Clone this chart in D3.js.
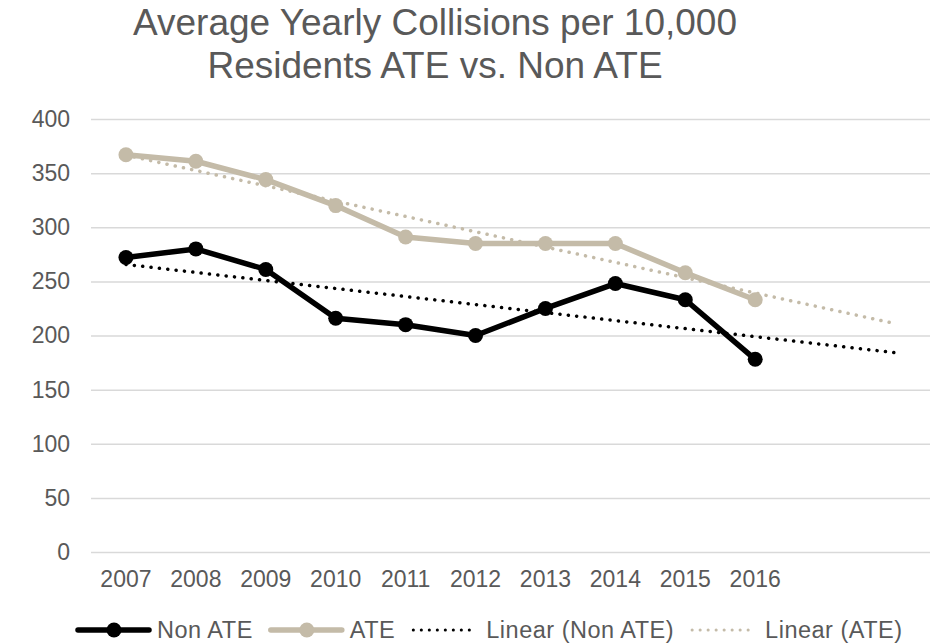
<!DOCTYPE html>
<html>
<head>
<meta charset="utf-8">
<script src="https://cdn.jsdelivr.net/npm/d3@7"></script>
<style>
  body { margin: 0; background: #fff; }
  svg { font-family: "Liberation Sans", Arial, sans-serif; }
</style>
</head>
<body>
<div id="chart"></div>
<script>
// Chart data
const years = ['2007', '2008', '2009', '2010', '2011', '2012', '2013', '2014', '2015', '2016'];
const nonAte = [272, 280, 261, 216, 210, 200, 225, 248, 233, 178];
const ate = [367, 361, 344, 320, 291, 285, 285, 285, 258, 233];
const yTicks = [0, 50, 100, 150, 200, 250, 300, 350, 400];
const titleLines = ['Average Yearly Collisions per 10,000', 'Residents ATE vs. Non ATE'];
const forecastPeriods = 2; // trendline forward forecast

const W = 935, H = 644;
const plot = { left: 91, right: 930, top: 119, bottom: 552 };
const textColor = '#595959';
const ateColor = '#c4bba8';
const fontFamily = '"Liberation Sans", Arial, sans-serif';

const svg = d3.select('#chart').append('svg')
    .attr('width', W)
    .attr('height', H);

const xScale = d3.scaleLinear()
    .domain([-0.5, years.length + forecastPeriods - 0.5])
    .range([plot.left, plot.right]);
const yScale = d3.scaleLinear()
    .domain([0, 400])
    .range([plot.bottom, plot.top]);

// Title
svg.append('g').selectAll('text')
    .data(titleLines)
    .enter().append('text')
    .attr('x', 435)
    .attr('y', (d, i) => 35 + i * 43)
    .attr('text-anchor', 'middle')
    .attr('font-size', '37px')
    .attr('fill', textColor)
    .text(d => d);

// Gridlines + y labels
const yAxis = d3.axisLeft(yScale)
    .tickValues(yTicks)
    .tickSize(-(plot.right - plot.left))
    .tickPadding(21);
svg.append('g')
    .attr('class', 'y-axis')
    .attr('transform', `translate(${plot.left},0)`)
    .call(yAxis)
    .call(g => g.select('.domain').remove())
    .call(g => g.selectAll('.tick line').attr('stroke', '#d9d9d9').attr('stroke-width', 1.5))
    .call(g => g.selectAll('.tick text')
        .attr('fill', textColor)
        .attr('font-size', '23px')
        .attr('font-family', fontFamily));

// X labels (only for real categories)
svg.append('g').selectAll('text')
    .data(years)
    .enter().append('text')
    .attr('x', (d, i) => xScale(i))
    .attr('y', 587)
    .attr('text-anchor', 'middle')
    .attr('font-size', '23px')
    .attr('fill', textColor)
    .text(d => d);

// Linear trendline (least squares, like Excel)
function trend(values) {
    const n = values.length;
    const xs = values.map((v, i) => i);
    const mx = d3.mean(xs), my = d3.mean(values);
    const sxy = d3.sum(xs, (x, i) => (x - mx) * (values[i] - my));
    const sxx = d3.sum(xs, x => (x - mx) * (x - mx));
    const slope = sxy / sxx;
    const b = my - slope * mx;
    const last = n - 1 + forecastPeriods;
    return [[0, b], [last, b + slope * last]];
}

const line = d3.line()
    .x(d => xScale(d[0]))
    .y(d => yScale(d[1]));

const dotDash = '0.1 8.3';

// Trendlines
svg.append('path')
    .attr('d', line(trend(ate)))
    .attr('fill', 'none')
    .attr('stroke', ateColor)
    .attr('stroke-width', 3.5)
    .attr('stroke-linecap', 'round')
    .attr('stroke-dasharray', dotDash);
svg.append('path')
    .attr('d', line(trend(nonAte)))
    .attr('fill', 'none')
    .attr('stroke', '#000')
    .attr('stroke-width', 3.5)
    .attr('stroke-linecap', 'round')
    .attr('stroke-dasharray', dotDash);

// Series
const series = [
    { name: 'Non ATE', values: nonAte, color: '#000' },
    { name: 'ATE', values: ate, color: ateColor }
];

series.forEach(s => {
    const pts = s.values.map((v, i) => [i, v]);
    svg.append('path')
        .attr('d', line(pts))
        .attr('fill', 'none')
        .attr('stroke', s.color)
        .attr('stroke-width', 5.5)
        .attr('stroke-linejoin', 'round');
    svg.append('g').selectAll('circle')
        .data(pts)
        .enter().append('circle')
        .attr('cx', d => xScale(d[0]))
        .attr('cy', d => yScale(d[1]))
        .attr('r', 7.5)
        .attr('fill', s.color);
});

// Legend
const legendItems = [
    { label: 'Non ATE', color: '#000', type: 'line' },
    { label: 'ATE', color: ateColor, type: 'line' },
    { label: 'Linear (Non ATE)', color: '#000', type: 'dot' },
    { label: 'Linear (ATE)', color: ateColor, type: 'dot' }
];
const legend = svg.append('g').attr('class', 'legend');
let lx = 78;
const ly = 630;
legendItems.forEach(item => {
    const g = legend.append('g');
    let textX;
    if (item.type === 'line') {
        g.append('line')
            .attr('x1', lx).attr('x2', lx + 71)
            .attr('y1', ly).attr('y2', ly)
            .attr('stroke', item.color)
            .attr('stroke-width', 5.5)
            .attr('stroke-linecap', 'round');
        g.append('circle')
            .attr('cx', lx + 36).attr('cy', ly)
            .attr('r', 7.5)
            .attr('fill', item.color);
        textX = lx + 79;
    } else {
        g.append('line')
            .attr('x1', lx).attr('x2', lx + 60)
            .attr('y1', ly).attr('y2', ly)
            .attr('stroke', item.color)
            .attr('stroke-width', 3)
            .attr('stroke-linecap', 'round')
            .attr('stroke-dasharray', '0.1 7.9');
        textX = lx + 73;
    }
    const t = g.append('text')
        .attr('x', textX)
        .attr('y', ly + 8)
        .attr('font-size', '23.5px')
        .attr('letter-spacing', '0.5px')
        .attr('fill', textColor)
        .text(item.label);
    lx = textX + t.node().getComputedTextLength() + 18;
});
</script>
</body>
</html>
